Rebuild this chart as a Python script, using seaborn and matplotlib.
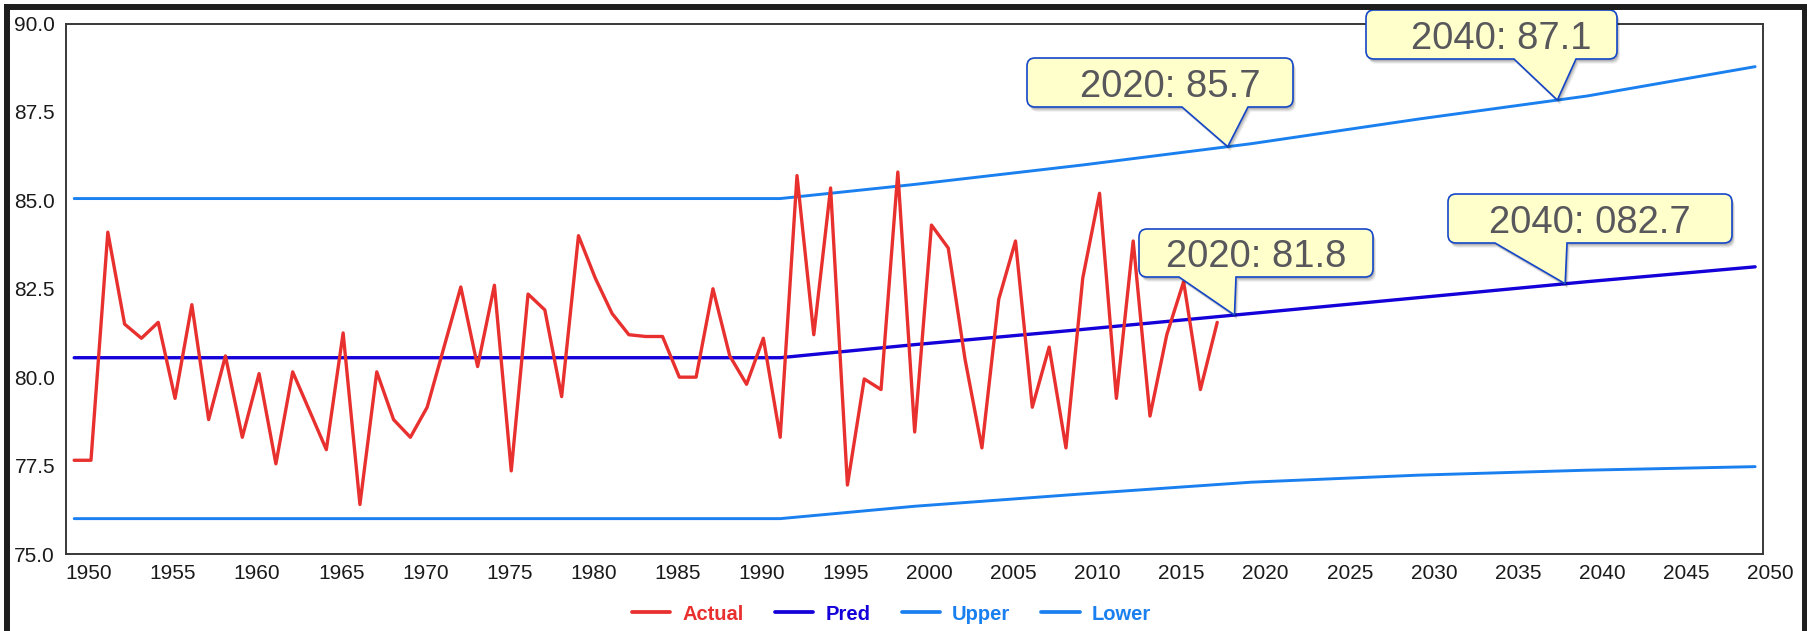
import numpy as np
import pandas as pd
import matplotlib
matplotlib.use("Agg")
import matplotlib.pyplot as plt
import matplotlib.dates as mdates
from matplotlib.path import Path
from matplotlib.patches import PathPatch
from matplotlib.lines import Line2D
from matplotlib.transforms import IdentityTransform
import seaborn as sns

# ---- data -------------------------------------------------------------
actual_years = list(range(1950, 2019))
actual_values = [
    77.65, 77.65, 84.1, 81.5, 81.1, 81.55, 79.4, 82.05, 78.8, 80.6,
    78.3, 80.1, 77.55, 80.15, 79.05, 77.95, 81.25, 76.4, 80.15, 78.8,
    78.3, 79.15, 80.85, 82.55, 80.3, 82.6, 77.35, 82.35, 81.9, 79.45,
    84.0, 82.8, 81.8, 81.2, 81.15, 81.15, 80.0, 80.0, 82.5, 80.6,
    79.8, 81.1, 78.3, 85.7, 81.2, 85.35, 76.95, 79.95, 79.65, 85.8,
    78.45, 84.3, 83.65, 80.5, 78.0, 82.2, 83.85, 79.15, 80.85, 78.0,
    82.8, 85.2, 79.4, 83.85, 78.9, 81.2, 82.7, 79.65, 81.55,
]

# forecast and its interval, listed at the years where the lines bend
band_years = [1950, 1992, 2000, 2010, 2020, 2030, 2040, 2050]
pred_values = [80.55, 80.55, 80.92, 81.35, 81.8, 82.25, 82.7, 83.12]
upper_values = [85.05, 85.05, 85.45, 86.0, 86.6, 87.3, 87.95, 88.78]
lower_values = [76.0, 76.0, 76.35, 76.7, 77.03, 77.23, 77.37, 77.47]

series_names = ["Actual", "Pred", "Upper", "Lower"]
series_colors = ["#E8302E", "#1400D8", "#1A80F0", "#1A80F0"]

xtick_years = list(range(1950, 2051, 5))
ytick_values = [75.0, 77.5, 80.0, 82.5, 85.0, 87.5, 90.0]

callout_texts = ["2020: 85.7", "2040: 87.1", "2020: 81.8", "2040: 082.7"]
callout_series = ["Upper", "Upper", "Pred", "Pred"]

# ---- frame ------------------------------------------------------------
W, H = 1808, 631
sns.set_style("white")
plt.rcParams["font.family"] = ["Liberation Sans", "DejaVu Sans"]

fig = plt.figure(figsize=(W / 100, H / 100), dpi=100, facecolor="white")
ax = fig.add_axes([65.8 / W, 77 / H, (1763 - 65.8) / W, (607.5 - 77) / H])
ax.set_facecolor("white")

# long-form table for seaborn, values placed at mid-year
mid = lambda ys: pd.to_datetime([f"{y}-07-02" for y in ys])
frames = [pd.DataFrame({"date": mid(actual_years), "value": actual_values,
                        "series": "Actual"})]
for name, vals in zip(["Pred", "Upper", "Lower"],
                      [pred_values, upper_values, lower_values]):
    frames.append(pd.DataFrame({"date": mid(band_years), "value": vals,
                                "series": name}))
df = pd.concat(frames, ignore_index=True)

colors = dict(zip(series_names, series_colors))
widths = {"Actual": 2.4, "Pred": 2.4, "Upper": 2.1, "Lower": 2.1}
for name in ["Lower", "Upper", "Pred", "Actual"]:
    sub = df[df["series"] == name]
    sns.lineplot(data=sub, x="date", y="value", color=colors[name],
                 linewidth=widths[name], estimator=None, sort=False,
                 legend=False, ax=ax)

ax.set_xlim(pd.Timestamp("1950-01-01"), pd.Timestamp("2050-12-20"))
ax.set_ylim(75, 90)
ax.set_xlabel("")
ax.set_ylabel("")

ax.set_xticks([pd.Timestamp(f"{y}-01-01") for y in xtick_years])
ax.set_xticklabels([str(y) for y in xtick_years], ha="left")
ax.set_yticks(ytick_values)
ax.set_yticklabels([f"{v:.1f}" for v in ytick_values])

for side in ["left", "right", "top", "bottom"]:
    ax.spines[side].set_color("#383838")
    ax.spines[side].set_linewidth(1.4)
ax.tick_params(axis="x", direction="out", length=5.2, width=1.1,
               color="#383838", labelsize=15, labelcolor="#1a1a1a", pad=2.2)
ax.tick_params(axis="y", direction="out", length=2.2, width=1.1,
               color="#383838", labelsize=15, labelcolor="#1a1a1a", pad=5.5)
ax.grid(False)

# ---- legend -----------------------------------------------------------
handles = [Line2D([], [], color=colors[n], lw=2.7) for n in series_names]
leg = fig.legend(handles, series_names, loc="center",
                 bbox_to_anchor=(891.8 / W, (H - 614) / H), ncol=4,
                 frameon=False, handlelength=1.89, handletextpad=0.62,
                 columnspacing=1.54, borderpad=0,
                 prop={"weight": "bold", "size": 14.5})
for txt, n in zip(leg.get_texts(), series_names):
    txt.set_color(colors[n])

# ---- callouts ---------------------------------------------------------
ident = IdentityTransform()
band_num = mdates.date2num(mid(band_years))
lookup = {"Pred": pred_values, "Upper": upper_values}
# where each pointer touches its line
tip_dates = ["2019-02-15", "2038-09-25", "2019-07-12", "2039-03-15"]
# box left, top, right, bottom, pointer base left/right, text centre (px)
boxes = [
    (1027, 58, 1293, 107, 1182, 1248, 1170),
    (1366, 10, 1617, 59, 1514, 1576, 1501),
    (1139, 229, 1373, 277, 1179, 1236, 1256),
    (1448, 194, 1732, 243, 1495, 1567, 1590),
]


def callout_path(l, t, r, b, bl, br, tip, rad=8.0):
    M, Ln, C3, CL = Path.MOVETO, Path.LINETO, Path.CURVE3, Path.CLOSEPOLY
    verts = [(l + rad, t), (r - rad, t), (r, t), (r, t - rad),
             (r, b + rad), (r, b), (r - rad, b),
             (br, b), tip, (bl, b),
             (l + rad, b), (l, b), (l, b + rad),
             (l, t - rad), (l, t), (l + rad, t), (l + rad, t)]
    codes = [M, Ln, C3, C3, Ln, C3, C3, Ln, Ln, Ln, Ln, C3, C3, Ln, C3, C3, CL]
    return Path(verts, codes)


for text, tdate, sname, box in zip(callout_texts, tip_dates,
                                   callout_series, boxes):
    l, t, r, b, bl, br, tcx = box
    xn = mdates.date2num(pd.Timestamp(tdate))
    yv = np.interp(xn, band_num, lookup[sname])
    tip = tuple(ax.transData.transform((xn, yv)))
    T, B = H - t, H - b
    # soft drop shadow
    for k, a in [(5, 0.05), (4, 0.07), (3, 0.09), (2, 0.11)]:
        sp = callout_path(l + k * 0.6, T - k, r + k * 0.6, B - k,
                          bl + k * 0.6, br + k * 0.6,
                          (tip[0] + k * 0.6, tip[1] - k))
        fig.add_artist(PathPatch(sp, transform=ident, facecolor="black",
                                 edgecolor="none", alpha=a, zorder=5))
    fig.add_artist(PathPatch(callout_path(l, T, r, B, bl, br, tip),
                             transform=ident, facecolor="#FFFFCC",
                             edgecolor="#1446C8", lw=1.2, joinstyle="miter",
                             zorder=6))
    fig.text(tcx, B + 10.3, text, transform=ident, ha="center",
             va="baseline", fontsize=27.5, color="#58585C", zorder=7)

# ---- outer border -----------------------------------------------------
for xs, ys in [([6.7, 6.7], [H - 4, -10]),
               ([3.8, W + 10], [H - 7, H - 7]),
               ([W - 3.3, W - 3.3], [H - 4, -10])]:
    fig.add_artist(Line2D(xs, ys, transform=ident, color="#1E1E1E",
                          lw=4.3, solid_capstyle="butt", zorder=8))

fig.savefig("out.png", dpi=100, facecolor="white")
